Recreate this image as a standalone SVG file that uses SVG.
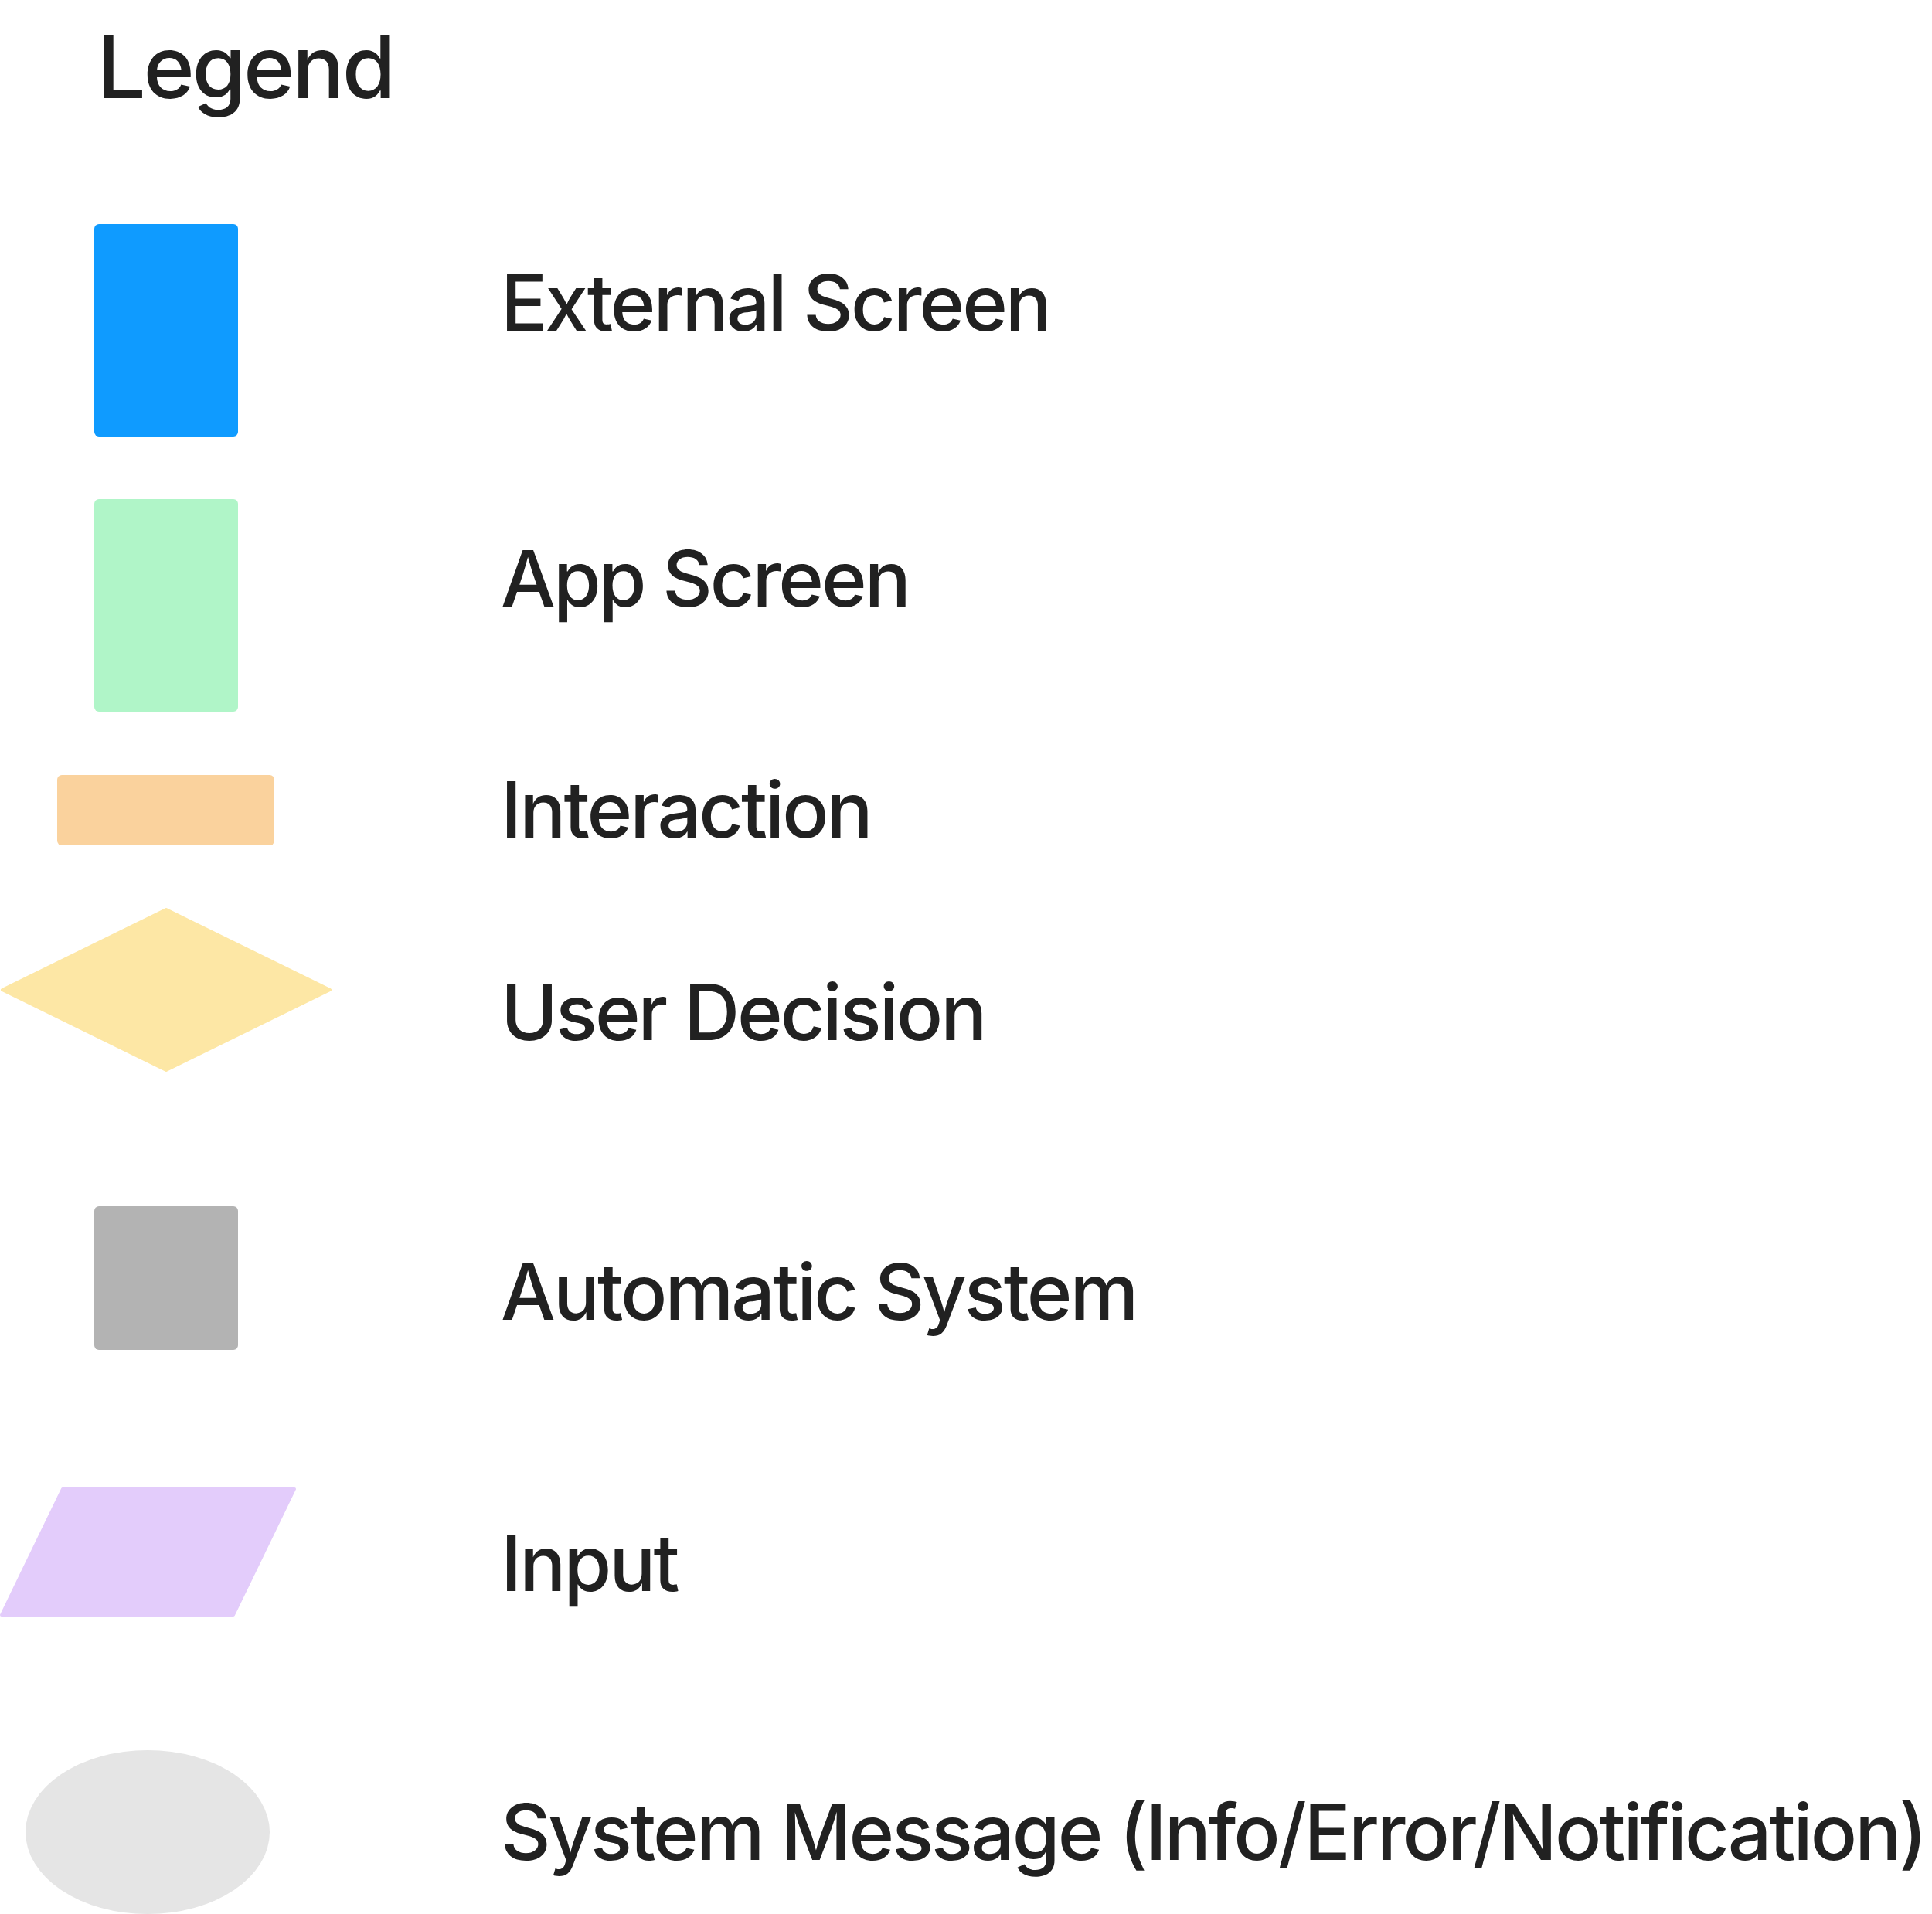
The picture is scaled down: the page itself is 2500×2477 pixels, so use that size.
<svg xmlns="http://www.w3.org/2000/svg" width="2500" height="2477" viewBox="0 0 2500 2477">
<style>
.lbl{font-family:Inter,"Noto Sans","Liberation Sans",sans-serif;font-size:100px;font-weight:500;letter-spacing:-3px;fill:#212121}
.title{font-family:Inter,"Noto Sans","Liberation Sans",sans-serif;font-size:113px;font-weight:500;letter-spacing:-3.4px;fill:#212121}
</style>
<rect width="2500" height="2477" fill="#ffffff"/>
<text class="title" x="125" y="127">Legend</text>
<g id="external-screen">
<rect x="122" y="290" width="186" height="275" rx="6" fill="#0F9BFF"/>
<text class="lbl" x="648" y="428">External Screen</text>
</g>
<g id="app-screen">
<rect x="122" y="646" width="186" height="275" rx="6" fill="#B0F5C8"/>
<text class="lbl" x="648" y="785">App Screen</text>
</g>
<g id="interaction">
<rect x="74" y="1003" width="281" height="91" rx="6" fill="#FAD29D"/>
<text class="lbl" x="648" y="1084">Interaction</text>
</g>
<g id="user-decision">
<polygon points="215,1177 427,1281 215,1385 3,1281" fill="#FDE7A5" stroke="#FDE7A5" stroke-width="4" stroke-linejoin="round"/>
<text class="lbl" x="648" y="1346">User Decision</text>
</g>
<g id="automatic-system">
<rect x="122" y="1561" width="186" height="186" rx="6" fill="#B3B3B3"/>
<text class="lbl" x="648" y="1708">Automatic System</text>
</g>
<g id="input">
<polygon points="81,1927 381,1927 302,2090 2,2090" fill="#E3CCFB" stroke="#E3CCFB" stroke-width="4" stroke-linejoin="round"/>
<text class="lbl" x="648" y="2059">Input</text>
</g>
<g id="system-message">
<ellipse cx="191" cy="2371" rx="158" ry="106" fill="#E5E5E5"/>
<text class="lbl" x="648" y="2407">System Message (Info/Error/Notification)</text>
</g>
<g id="connectors"></g>
</svg>
